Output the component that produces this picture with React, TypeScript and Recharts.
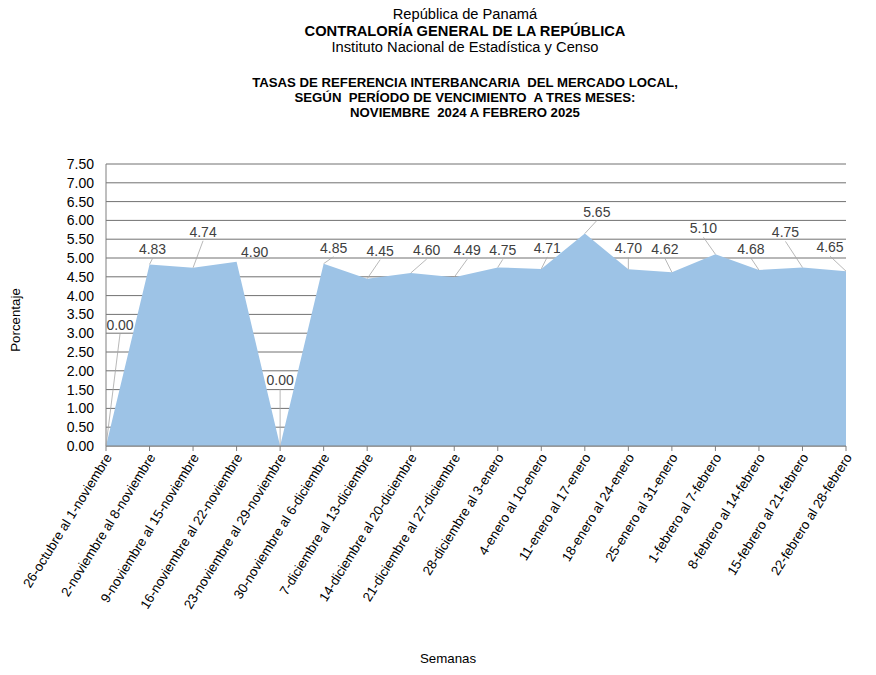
import { AreaChart, Area, XAxis, YAxis, CartesianGrid, LabelList } from 'recharts';

const weeks = [
  '26-octubre al 1-noviembre',
  '2-noviembre al 8-noviembre',
  '9-noviembre al 15-noviembre',
  '16-noviembre al 22-noviembre',
  '23-noviembre al 29-noviembre',
  '30-noviembre al 6-diciembre',
  '7-diciembre al 13-diciembre',
  '14-diciembre al 20-diciembre',
  '21-diciembre al 27-diciembre',
  '28-diciembre al 3-enero',
  '4-enero al 10-enero',
  '11-enero al 17-enero',
  '18-enero al 24-enero',
  '25-enero al 31-enero',
  '1-febrero al 7-febrero',
  '8-febrero al 14-febrero',
  '15-febrero al 21-febrero',
  '22-febrero al 28-febrero',
];

const rates = [0.0, 4.83, 4.74, 4.9, 0.0, 4.85, 4.45, 4.6, 4.49, 4.75, 4.71, 5.65, 4.7, 4.62, 5.1, 4.68, 4.75, 4.65];

const yTicks = [0, 0.5, 1, 1.5, 2, 2.5, 3, 3.5, 4, 4.5, 5, 5.5, 6, 6.5, 7, 7.5];

// where each data label sits relative to its point (label center, px)
const labelOffsets: [number, number][] = [
  [14, -121], [3, -15], [10, -36], [18, -10], [0, -66], [10, -16],
  [13, -28], [16, -23], [13, -27], [5, -17], [6, -21], [12, -22],
  [0, -21], [-7, -23], [-12, -26], [-8, -21], [-17, -35], [-16, -24],
];

const data = weeks.map((week, i) => ({ week, value: rates[i] }));

const FONT = '"Liberation Sans", Arial, sans-serif';

const WeekTick = (props: any) => {
  const { x, y, payload } = props;
  return (
    <text
      x={x + 3}
      y={y}
      dy={4}
      transform={`rotate(-58, ${x + 3}, ${y})`}
      textAnchor="end"
      fontSize={13.3}
      fontFamily={FONT}
      fill="#000"
    >
      {payload.value}
    </text>
  );
};

const RateLabel = (props: any) => {
  const { x, y, index, value } = props;
  const [dx, dy] = labelOffsets[index] || [0, -14];
  const lx = x + dx;
  const ly = y + dy;
  const showLeader = Math.abs(dy) > 12;
  return (
    <g>
      {showLeader && (
        <line x1={x} y1={y} x2={lx} y2={ly + 9} stroke="#a6a6a6" strokeWidth={0.8} />
      )}
      <text
        x={lx}
        y={ly}
        dy={5}
        textAnchor="middle"
        fontSize={14}
        fontFamily={FONT}
        fill="#404040"
      >
        {Number(value).toFixed(2)}
      </text>
    </g>
  );
};

const titleStyle = (top: number, size: number, bold: boolean): React.CSSProperties => ({
  position: 'absolute',
  left: 465,
  top,
  transform: 'translateX(-50%)',
  whiteSpace: 'pre',
  fontFamily: FONT,
  fontSize: size,
  fontWeight: bold ? 'bold' : 'normal',
  lineHeight: 1,
  color: '#000',
});

export default function App() {
  return (
    <div style={{ position: 'absolute', left: 0, top: 0, width: 876, height: 675, background: '#fff' }}>
      <div style={titleStyle(7, 14.7, false)}>República de Panamá</div>
      <div style={titleStyle(24, 14.7, true)}>CONTRALORÍA GENERAL DE LA REPÚBLICA</div>
      <div style={titleStyle(40, 14.7, false)}>Instituto Nacional de Estadística y Censo</div>
      <div style={titleStyle(76, 13.2, true)}>{'TASAS DE REFERENCIA INTERBANCARIA  DEL MERCADO LOCAL,'}</div>
      <div style={titleStyle(91, 13.2, true)}>{'SEGÚN  PERÍODO DE VENCIMIENTO  A TRES MESES:'}</div>
      <div style={titleStyle(106, 13.2, true)}>{'NOVIEMBRE  2024 A FEBRERO 2025'}</div>

      <div
        style={{
          position: 'absolute',
          left: 15,
          top: 320,
          transform: 'translate(-50%, -50%) rotate(-90deg)',
          fontFamily: FONT,
          fontSize: 13.3,
          whiteSpace: 'nowrap',
        }}
      >
        Porcentaje
      </div>
      <div
        style={{
          position: 'absolute',
          left: 448,
          top: 658,
          transform: 'translate(-50%, -50%)',
          fontFamily: FONT,
          fontSize: 13.3,
          whiteSpace: 'nowrap',
        }}
      >
        Semanas
      </div>

      <AreaChart
        width={876}
        height={675}
        data={data}
        margin={{ top: 164, right: 30, bottom: 79, left: 46 }}
        style={{ position: 'absolute', left: 0, top: 0 }}
      >
        <CartesianGrid vertical={false} stroke="#717171" strokeWidth={1} />
        <XAxis
          dataKey="week"
          interval={0}
          height={150}
          tick={<WeekTick />}
          tickSize={5}
          tickMargin={4}
          stroke="#7f7f7f"
        />
        <YAxis
          domain={[0, 7.5]}
          ticks={yTicks}
          width={60}
          tickLine={false}
          tickMargin={6}
          stroke="#7f7f7f"
          tick={{ fill: '#000', fontSize: 14, fontFamily: FONT }}
          tickFormatter={(v: number) => v.toFixed(2)}
          interval={0}
        />
        <Area
          type="linear"
          dataKey="value"
          stroke="none"
          fill="#9dc3e6"
          fillOpacity={1}
          isAnimationActive={false}
        >
          <LabelList dataKey="value" content={<RateLabel />} />
        </Area>
      </AreaChart>
    </div>
  );
}
